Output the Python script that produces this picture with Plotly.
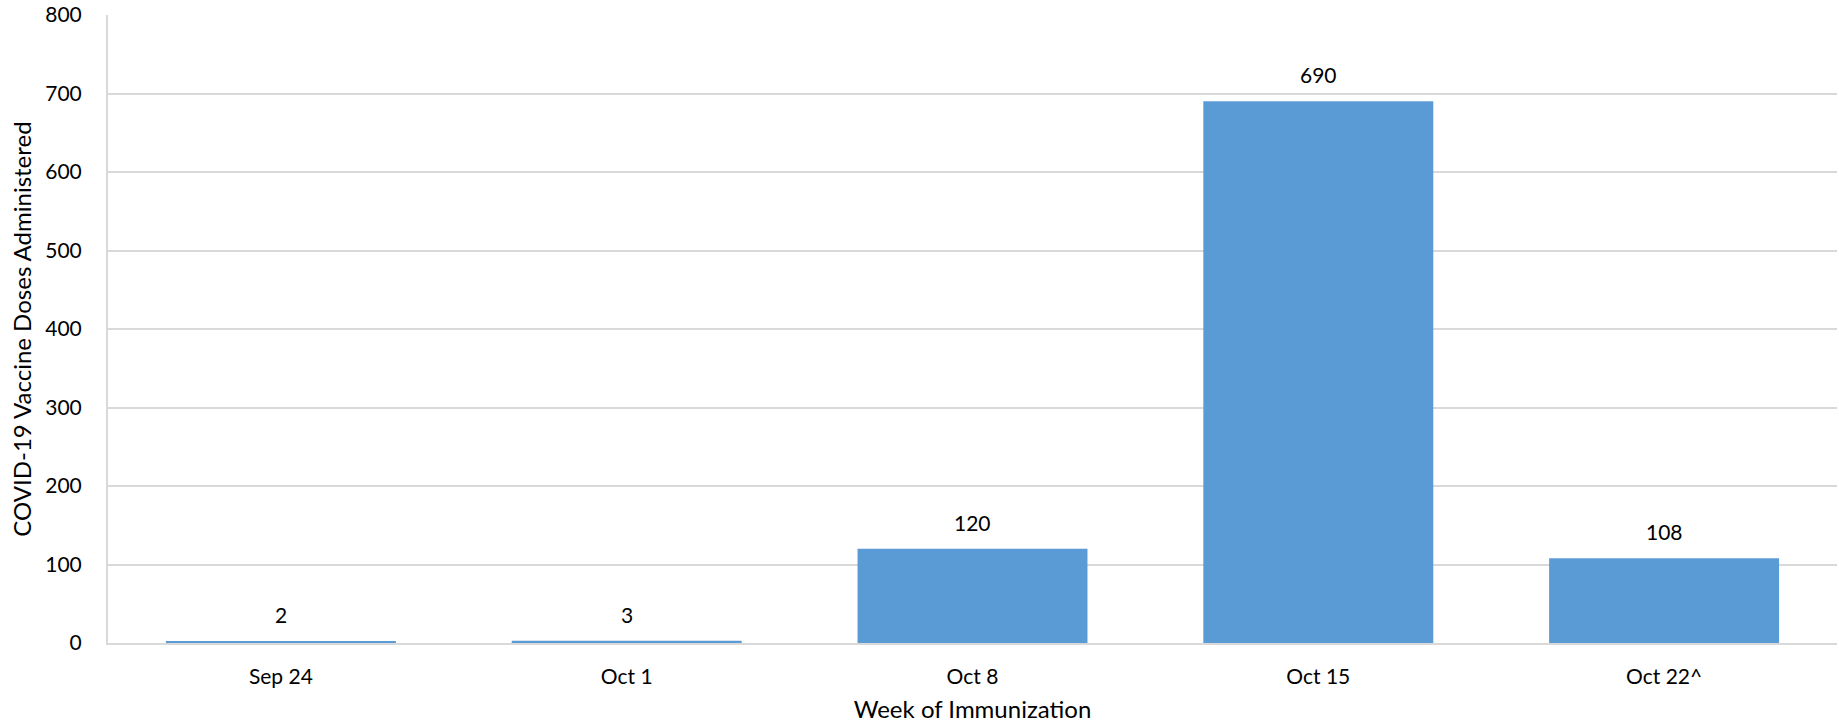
import plotly.graph_objects as go

# Weekly COVID-19 vaccine doses
weeks = ["Sep 24", "Oct 1", "Oct 8", "Oct 15", "Oct 22^"]
doses = [2, 3, 120, 690, 108]

y_ticks = [0, 100, 200, 300, 400, 500, 600, 700, 800]

FONT = "Lato, Calibri, Carlito, sans-serif"
BAR_COLOR = "#5B9BD5"
GRID_COLOR = "#D9D9D9"

fig = go.Figure(
    go.Bar(
        x=weeks,
        y=doses,
        marker=dict(color=BAR_COLOR, line=dict(width=0)),
        hoverinfo="x+y",
    )
)

# value labels sitting above each bar
for w, d in zip(weeks, doses):
    fig.add_annotation(
        x=w, y=d, text=str(d), showarrow=False,
        yanchor="bottom", yshift=12,
        font=dict(family=FONT, size=21, color="#000000"),
    )

fig.update_layout(
    width=1839,
    height=726,
    margin=dict(l=108, r=2, t=15, b=83),
    paper_bgcolor="white",
    plot_bgcolor="white",
    bargap=0.335,
    showlegend=False,
    font=dict(family=FONT, size=21, color="#000000"),
)

fig.update_xaxes(
    showline=True, linecolor=GRID_COLOR, linewidth=2,
    showgrid=False, ticks="", ticklabelstandoff=14,
    tickfont=dict(family=FONT, size=21),
    title=dict(text="Week of Immunization", standoff=14,
               font=dict(family=FONT, size=24)),
)

fig.update_yaxes(
    range=[0, 800], tickvals=y_ticks,
    showline=True, linecolor=GRID_COLOR, linewidth=2,
    showgrid=True, gridcolor=GRID_COLOR, gridwidth=2,
    zeroline=False, ticks="", ticklabelstandoff=20,
    tickfont=dict(family=FONT, size=21),
    title=dict(text="COVID-19 Vaccine Doses Administered", standoff=7,
               font=dict(family=FONT, size=24)),
)

fig.write_html("out.html")
